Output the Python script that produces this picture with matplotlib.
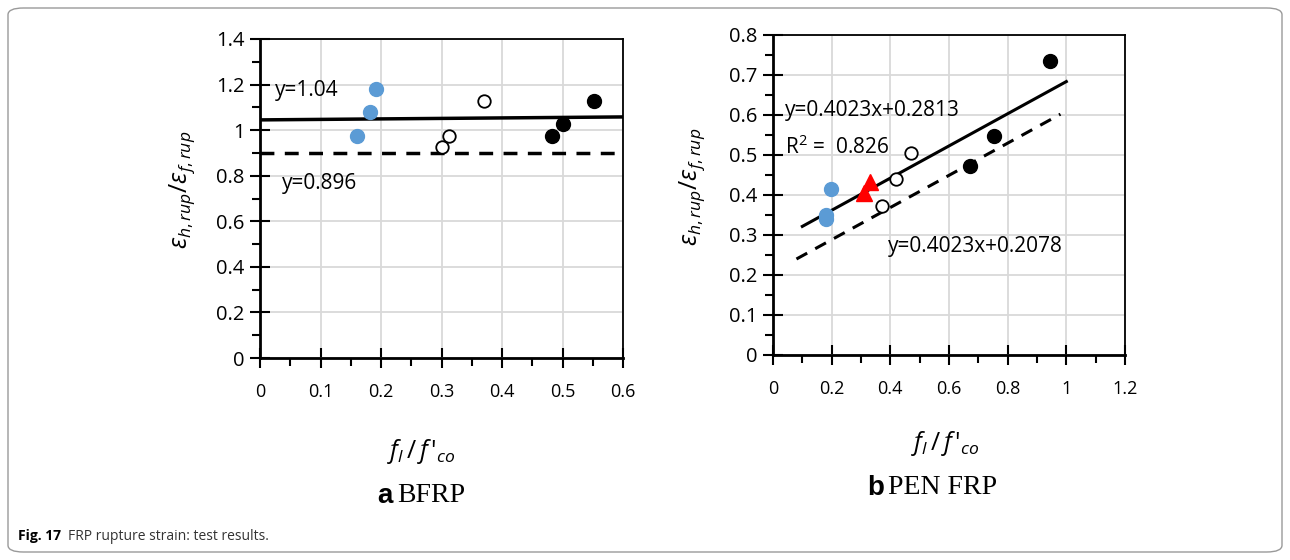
import numpy as np
import matplotlib
matplotlib.use("Agg")
import matplotlib.pyplot as plt
from matplotlib.patches import FancyBboxPatch

plt.rcParams['font.family'] = ['Open Sans', 'DejaVu Sans']
plt.rcParams['mathtext.fontset'] = 'custom'
plt.rcParams['mathtext.rm'] = 'Open Sans'
plt.rcParams['mathtext.it'] = 'Open Sans:italic'

# panel a: BFRP
a_blue_x = [0.161, 0.181, 0.192]
a_blue_y = [0.975, 1.078, 1.181]
a_open_x = [0.301, 0.312, 0.371]
a_open_y = [0.925, 0.975, 1.130]
a_fill_x = [0.482, 0.501, 0.552]
a_fill_y = [0.975, 1.027, 1.130]
a_solid_x = [0.0, 0.6]
a_solid_y = [1.045, 1.058]
a_dash_y = 0.9

# panel b: PEN FRP
b_blue_x = [0.199, 0.179, 0.179]
b_blue_y = [0.416, 0.351, 0.340]
b_tri_x = [0.329, 0.311]
b_tri_y = [0.433, 0.406]
b_open_x = [0.471, 0.421, 0.370]
b_open_y = [0.504, 0.440, 0.373]
b_fill_x = [0.944, 0.753, 0.673]
b_fill_y = [0.734, 0.548, 0.472]
b_slope = 0.4023
b_int_mean = 0.2813
b_int_low = 0.2078
b_mean_x = [0.1, 1.0]
b_low_x = [0.08, 0.98]

a_xticks = ['0', '0.1', '0.2', '0.3', '0.4', '0.5', '0.6']
a_yticks = ['0', '0.2', '0.4', '0.6', '0.8', '1', '1.2', '1.4']
b_xticks = ['0', '0.2', '0.4', '0.6', '0.8', '1', '1.2']
b_yticks = ['0', '0.1', '0.2', '0.3', '0.4', '0.5', '0.6', '0.7', '0.8']

blue = '#5b9bd5'
W, H = 1290, 560
fig = plt.figure(figsize=(W/100, H/100), dpi=100)

border = FancyBboxPatch((8/W, 8/H), 1274/W, 544/H, boxstyle="round,pad=0,rounding_size=0.012",
                        transform=fig.transFigure, fill=False, edgecolor='#9a9a9a', lw=1.0)
fig.patches.append(border)

def style_axes(ax, xmax, xmaj, xmin, ymax, ymaj, ymin, xlabels, ylabels):
    ax.set_xlim(0, xmax)
    ax.set_ylim(0, ymax)
    ax.set_xticks(np.arange(0, xmax + 1e-9, xmaj))
    ax.set_xticks(np.arange(0, xmax + 1e-9, xmin), minor=True)
    ax.set_yticks(np.arange(0, ymax + 1e-9, ymaj))
    ax.set_yticks(np.arange(0, ymax + 1e-9, ymin), minor=True)
    ax.set_xticklabels(xlabels, fontsize=13)
    ax.set_yticklabels(ylabels, fontsize=14.5)
    ax.grid(True, which='major', color='#d9d9d9', lw=1.3, zorder=0)
    for s in ax.spines.values():
        s.set_linewidth(1.3)
    ax.spines['left'].set_linewidth(2)
    ax.spines['bottom'].set_linewidth(2)
    ax.tick_params(which='major', direction='inout', length=14, width=1.5)
    ax.tick_params(which='minor', direction='out', length=6, width=1.5)
    ax.tick_params(axis='x', which='major', pad=11)
    ax.tick_params(axis='y', which='major', pad=4)
    ax.set_axisbelow(True)

# ---- panel a
ax1 = fig.add_axes([260/W, 1 - 358/H, 363/W, 319/H])
style_axes(ax1, 0.6, 0.1, 0.05, 1.4, 0.2, 0.1, a_xticks, a_yticks)
ax1.plot(a_solid_x, a_solid_y, color='black', lw=2.5, zorder=3)
ax1.axhline(a_dash_y, color='black', lw=2.5, ls=(0, (4, 3)), zorder=3)
ax1.plot(a_blue_x, a_blue_y, 'o', color=blue, ms=10, zorder=4)
ax1.plot(a_open_x, a_open_y, 'o', mfc='white', mec='black', mew=1.3, ms=9, zorder=4)
ax1.plot(a_fill_x, a_fill_y, 'o', color='black', ms=10, zorder=4)
ax1.text(0.025, 1.172, 'y=1.04', fontsize=15, va='center', ha='left', zorder=5)
ax1.text(0.036, 0.767, 'y=0.896', fontsize=15, va='center', ha='left', zorder=5)

# ---- panel b
ax2 = fig.add_axes([773/W, 1 - 355/H, 352/W, 320/H])
style_axes(ax2, 1.2, 0.2, 0.1, 0.8, 0.1, 0.05, b_xticks, b_yticks)
mx = np.array(b_mean_x)
lx = np.array(b_low_x)
ax2.plot(mx, b_slope * mx + b_int_mean, color='black', lw=2.2, zorder=3)
ax2.plot(lx, b_slope * lx + b_int_low, color='black', lw=2.2, ls=(0, (4, 3)), zorder=3)
ax2.plot(b_blue_x, b_blue_y, 'o', color=blue, ms=10, zorder=4)
ax2.plot(b_tri_x, b_tri_y, '^', color='#ff0000', ms=12, zorder=4)
ax2.plot(b_open_x, b_open_y, 'o', mfc='white', mec='black', mew=1.3, ms=9, zorder=4)
ax2.plot(b_fill_x, b_fill_y, 'o', color='black', ms=10, zorder=4)
ax2.text(0.04, 0.612, 'y=0.4023x+0.2813', fontsize=15, va='center', ha='left', zorder=5)
ax2.text(0.04, 0.519, 'R$^2$ =  0.826', fontsize=15, va='center', ha='left', zorder=5)
ax2.text(0.391, 0.272, 'y=0.4023x+0.2078', fontsize=15, va='center', ha='left', zorder=5)

# axis labels
ylab = r'$ε_{h,rup}/ε_{f,rup}$'
xlab = r"$f_l\,/\,f\,\text{'}_{co}$"
fig.text(182/W, 1 - 190/H, ylab, rotation=90, fontsize=18, ha='center', va='center')
fig.text(692/W, 1 - 187/H, ylab, rotation=90, fontsize=18, ha='center', va='center')
fig.text(421/W, 1 - 452/H, xlab, fontsize=18, ha='center', va='center')
fig.text(945/W, 1 - 444/H, xlab, fontsize=18, ha='center', va='center')

# panel titles
fig.text(393/W, 1 - 496/H, 'a', fontsize=20, fontweight='bold', ha='right', va='center',
         family=['Liberation Sans', 'DejaVu Sans'])
fig.text(397/W, 1 - 496/H, 'BFRP', fontsize=20, ha='left', va='center',
         family=['Liberation Serif', 'DejaVu Serif'])
fig.text(884/W, 1 - 488/H, 'b', fontsize=20, fontweight='bold', ha='right', va='center',
         family=['Liberation Sans', 'DejaVu Sans'])
fig.text(888/W, 1 - 488/H, 'PEN FRP', fontsize=20, ha='left', va='center',
         family=['Liberation Serif', 'DejaVu Serif'])

# caption
fig.text(18/W, 1 - 536/H, 'Fig. 17', fontsize=10, fontweight='bold', ha='left', va='center')
fig.text(68/W, 1 - 536/H, 'FRP rupture strain: test results.', fontsize=10, ha='left', va='center',
         color='#333333')

fig.savefig('out.png', dpi=100)
